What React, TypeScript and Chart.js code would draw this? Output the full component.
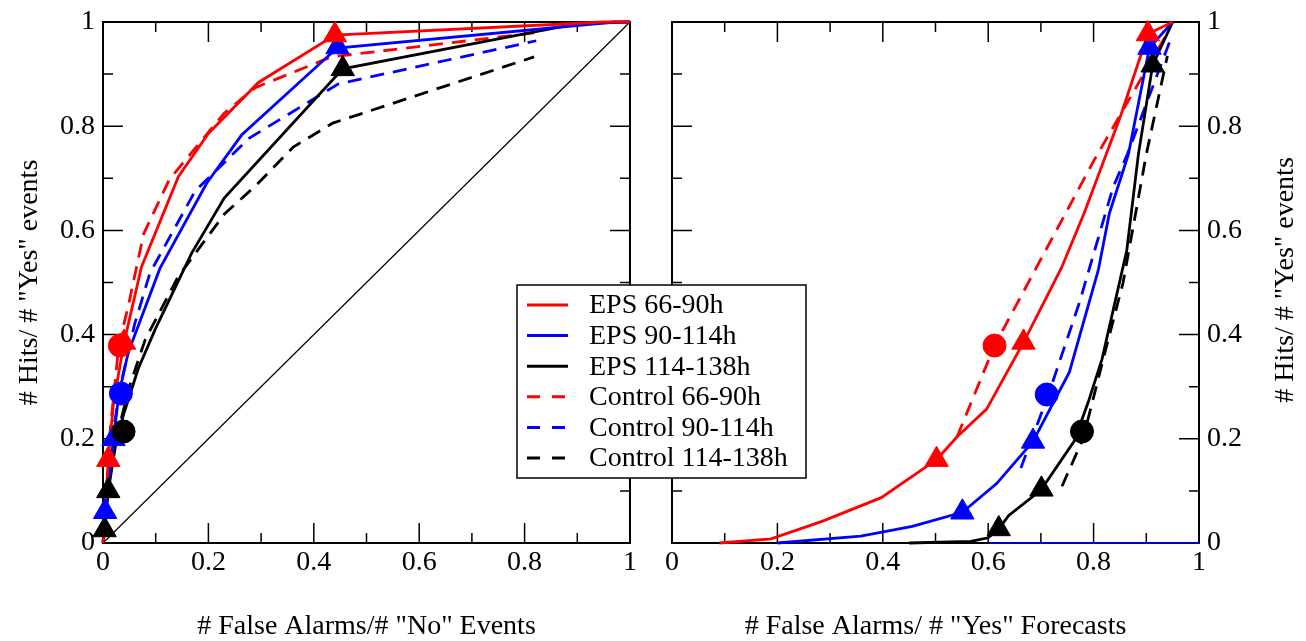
import React, { useEffect, useRef } from "react";
import { Chart, registerables } from "chart.js";

Chart.register(...registerables);

const FONT_FAMILY = "'Liberation Serif', 'Times New Roman', Times, serif";

const TICK_VALUES = [0, 0.2, 0.4, 0.6, 0.8, 1];
const TICK_LABELS = ["0", "0.2", "0.4", "0.6", "0.8", "1"];
const MINOR_TICK_VALUES = [0.1, 0.3, 0.5, 0.7, 0.9];

const SERIES_NAMES = [
  "EPS 66-90h",
  "EPS 90-114h",
  "EPS 114-138h",
  "Control 66-90h",
  "Control 90-114h",
  "Control 114-138h",
];
const SERIES_COLORS = ["#ff0000", "#0000ff", "#000000", "#ff0000", "#0000ff", "#000000"];
const SERIES_DASHED = [false, false, false, true, true, true];

const LEFT_X_TITLE = '# False Alarms/# "No" Events';
const RIGHT_X_TITLE = '# False Alarms/ # "Yes" Forecasts';
const Y_TITLE = '# Hits/ # "Yes" events';

// ---------- Left panel: hit rate vs false alarm rate ----------
const ROC_EPS66_X = [0, 0.004, 0.01, 0.02, 0.04, 0.073, 0.143, 0.2, 0.295, 0.44, 0.95, 1];
const ROC_EPS66_Y = [0, 0.06, 0.16, 0.27, 0.385, 0.53, 0.703, 0.786, 0.884, 0.975, 1, 1];
const ROC_EPS90_X = [0, 0.004, 0.01, 0.02, 0.03, 0.048, 0.108, 0.197, 0.263, 0.444, 0.97, 1];
const ROC_EPS90_Y = [0, 0.06, 0.114, 0.2, 0.285, 0.366, 0.527, 0.691, 0.783, 0.95, 1, 1];
const ROC_EPS114_X = [0, 0.003, 0.006, 0.01, 0.025, 0.04, 0.067, 0.099, 0.168, 0.23, 0.455, 0.9, 1];
const ROC_EPS114_Y = [0, 0.025, 0.053, 0.1, 0.195, 0.25, 0.335, 0.41, 0.556, 0.662, 0.91, 0.997, 1];
const ROC_CTL66_X = [0.012, 0.03, 0.048, 0.077, 0.126, 0.23, 0.289, 0.433, 0.818];
const ROC_CTL66_Y = [0.2, 0.38, 0.455, 0.593, 0.698, 0.825, 0.874, 0.933, 0.979];
const ROC_CTL90_X = [0.012, 0.02, 0.035, 0.06, 0.089, 0.175, 0.237, 0.276, 0.446, 0.822];
const ROC_CTL90_Y = [0.144, 0.22, 0.31, 0.42, 0.518, 0.676, 0.737, 0.776, 0.881, 0.964];
const ROC_CTL114_X = [0.01, 0.025, 0.05, 0.08, 0.143, 0.231, 0.289, 0.361, 0.436, 0.818];
const ROC_CTL114_Y = [0.109, 0.2, 0.3, 0.39, 0.512, 0.632, 0.685, 0.76, 0.806, 0.933];
const ROC_DIAGONAL_X = [0, 1];
const ROC_DIAGONAL_Y = [0, 1];

const ROC_TRI_RED_X = [0.01, 0.04, 0.44];
const ROC_TRI_RED_Y = [0.16, 0.385, 0.975];
const ROC_TRI_BLUE_X = [0.004, 0.02, 0.445];
const ROC_TRI_BLUE_Y = [0.06, 0.2, 0.952];
const ROC_TRI_BLACK_X = [0.003, 0.01, 0.455];
const ROC_TRI_BLACK_Y = [0.025, 0.1, 0.91];
const ROC_CIRCLE_X = [0.032, 0.034, 0.039];
const ROC_CIRCLE_Y = [0.379, 0.287, 0.214];

// ---------- Right panel: hit rate vs false alarm ratio ----------
const FAR_EPS66_X = [0.09, 0.188, 0.286, 0.397, 0.482, 0.502, 0.541, 0.597, 0.667, 0.739, 0.782, 0.852, 0.903, 0.95];
const FAR_EPS66_Y = [0, 0.008, 0.042, 0.087, 0.146, 0.16, 0.204, 0.257, 0.385, 0.528, 0.633, 0.822, 0.977, 1];
const FAR_EPS90_X = [0.2, 0.358, 0.456, 0.551, 0.616, 0.685, 0.754, 0.809, 0.83, 0.866, 0.906, 0.95];
const FAR_EPS90_Y = [0, 0.013, 0.032, 0.059, 0.114, 0.195, 0.328, 0.524, 0.633, 0.746, 0.951, 1];
const FAR_EPS114_X = [0.45, 0.567, 0.6, 0.62, 0.639, 0.682, 0.701, 0.763, 0.79, 0.816, 0.863, 0.885, 0.912, 0.95];
const FAR_EPS114_Y = [0, 0.003, 0.01, 0.027, 0.053, 0.087, 0.103, 0.195, 0.271, 0.353, 0.562, 0.746, 0.917, 1];
const FAR_CTL66_X = [0.541, 0.612, 0.8, 0.94];
const FAR_CTL66_Y = [0.204, 0.379, 0.733, 0.979];
const FAR_CTL90_X = [0.662, 0.714, 0.773, 0.837, 0.864, 0.945];
const FAR_CTL90_Y = [0.144, 0.284, 0.461, 0.683, 0.746, 0.964];
const FAR_CTL114_X = [0.74, 0.78, 0.82, 0.856, 0.9, 0.94];
const FAR_CTL114_Y = [0.109, 0.2, 0.36, 0.5, 0.746, 0.935];
const FAR_BLUE_BASE_X = [0.6, 1];
const FAR_BLUE_BASE_Y = [0, 0];

const FAR_TRI_RED_X = [0.502, 0.667, 0.903];
const FAR_TRI_RED_Y = [0.16, 0.385, 0.977];
const FAR_TRI_BLUE_X = [0.551, 0.685, 0.906];
const FAR_TRI_BLUE_Y = [0.059, 0.195, 0.951];
const FAR_TRI_BLACK_X = [0.62, 0.701, 0.912];
const FAR_TRI_BLACK_Y = [0.027, 0.103, 0.917];
const FAR_CIRCLE_X = [0.612, 0.711, 0.778];
const FAR_CIRCLE_Y = [0.379, 0.285, 0.214];

const CIRCLE_COLORS = ["#ff0000", "#0000ff", "#000000"];

function pts(xs: number[], ys: number[]) {
  return xs.map((x, i) => ({ x, y: ys[i] }));
}

function seriesDs(xs: number[], ys: number[], idx: number) {
  return {
    label: SERIES_NAMES[idx],
    data: pts(xs, ys),
    showLine: true,
    borderColor: SERIES_COLORS[idx],
    backgroundColor: SERIES_COLORS[idx],
    borderWidth: 2.8,
    borderDash: SERIES_DASHED[idx] ? [14, 9] : [],
    pointRadius: 0,
    tension: 0,
    clip: false,
    order: 2,
  };
}

function plainLine(xs: number[], ys: number[], color: string, width: number) {
  return {
    label: "",
    data: pts(xs, ys),
    showLine: true,
    borderColor: color,
    backgroundColor: color,
    borderWidth: width,
    pointRadius: 0,
    tension: 0,
    clip: false,
    order: 3,
  };
}

function markerDs(xs: number[], ys: number[], colors: string | string[], style: string, radius: number) {
  return {
    label: "",
    data: pts(xs, ys),
    showLine: false,
    pointStyle: style,
    pointRadius: radius,
    pointBackgroundColor: colors,
    pointBorderColor: colors,
    pointBorderWidth: 1,
    clip: false,
    order: 0,
  };
}

const framePlugin = {
  id: "frameTicks",
  beforeDatasetsDraw(chart: any) {
    const { ctx, chartArea: a, scales } = chart;
    const xs = scales.x;
    const ys = scales.y;
    ctx.save();
    ctx.strokeStyle = "#000";
    ctx.lineWidth = 1.5;
    ctx.beginPath();
    const drawX = (v: number, len: number) => {
      const px = xs.getPixelForValue(v);
      ctx.moveTo(px, a.bottom);
      ctx.lineTo(px, a.bottom - len);
      ctx.moveTo(px, a.top);
      ctx.lineTo(px, a.top + len);
    };
    const drawY = (v: number, len: number) => {
      const py = ys.getPixelForValue(v);
      ctx.moveTo(a.left, py);
      ctx.lineTo(a.left + len, py);
      ctx.moveTo(a.right, py);
      ctx.lineTo(a.right - len, py);
    };
    TICK_VALUES.forEach((v) => { drawX(v, 20); drawY(v, 20); });
    MINOR_TICK_VALUES.forEach((v) => { drawX(v, 10); drawY(v, 10); });
    ctx.stroke();
    ctx.lineWidth = 2;
    ctx.strokeRect(a.left, a.top, a.right - a.left, a.bottom - a.top);
    ctx.restore();
  },
};

const rightTitlePlugin = {
  id: "rightTitle",
  afterDraw(chart: any) {
    const { ctx } = chart;
    ctx.save();
    ctx.fillStyle = "#000";
    ctx.font = `28px ${FONT_FAMILY}`;
    ctx.textAlign = "center";
    ctx.textBaseline = "middle";
    ctx.translate(1286 - 480, 280);
    ctx.rotate(-Math.PI / 2);
    ctx.fillText(Y_TITLE, 0, 0);
    ctx.restore();
  },
};

const legendPlugin = {
  id: "boxLegend",
  afterDraw(chart: any) {
    const { ctx } = chart;
    const ox = 480;
    const x0 = 517 - ox;
    const y0 = 285;
    const w = 806 - 517;
    const h = 478 - 285;
    ctx.save();
    ctx.fillStyle = "#fff";
    ctx.fillRect(x0, y0, w, h);
    ctx.strokeStyle = "#000";
    ctx.lineWidth = 1.5;
    ctx.strokeRect(x0, y0, w, h);
    ctx.font = `28px ${FONT_FAMILY}`;
    ctx.textAlign = "left";
    ctx.textBaseline = "middle";
    SERIES_NAMES.forEach((name, i) => {
      const y = 305 + i * 30.6;
      ctx.beginPath();
      ctx.strokeStyle = SERIES_COLORS[i];
      ctx.lineWidth = 3;
      ctx.setLineDash(SERIES_DASHED[i] ? [13, 12] : []);
      ctx.moveTo(527 - ox, y);
      ctx.lineTo(568 - ox, y);
      ctx.stroke();
      ctx.setLineDash([]);
      ctx.fillStyle = "#000";
      ctx.fillText(name, 589 - ox, y + 1);
    });
    ctx.restore();
  },
};

function tickConfig(padding: number) {
  return {
    font: { family: FONT_FAMILY, size: 28, lineHeight: 1 },
    color: "#000",
    padding,
    maxRotation: 0,
    autoSkip: false,
    callback: (_v: any, i: number) => TICK_LABELS[i],
  };
}

function buildTicks(s: any) {
  s.ticks = TICK_VALUES.map((v) => ({ value: v }));
}

function baseOptions(padding: any, xTitle: string, yPos: string, yWidth: number, yTitle: boolean) {
  return {
    animation: false,
    responsive: false,
    maintainAspectRatio: false,
    events: [],
    layout: { padding },
    plugins: { legend: { display: false }, tooltip: { enabled: false }, title: { display: false } },
    scales: {
      x: {
        type: "linear",
        min: 0,
        max: 1,
        position: "bottom",
        afterBuildTicks: buildTicks,
        ticks: tickConfig(6),
        grid: { display: false, drawTicks: false },
        border: { display: false },
        title: {
          display: true,
          text: xTitle,
          color: "#000",
          font: { family: FONT_FAMILY, size: 28, lineHeight: 1 },
          padding: { top: 0, bottom: 0 },
        },
        afterFit: (s: any) => { s.height = 98; },
      },
      y: {
        type: "linear",
        min: 0,
        max: 1,
        position: yPos,
        afterBuildTicks: buildTicks,
        ticks: tickConfig(8),
        grid: { display: false, drawTicks: false },
        border: { display: false },
        title: {
          display: yTitle,
          text: Y_TITLE,
          color: "#000",
          font: { family: FONT_FAMILY, size: 28, lineHeight: 1 },
          padding: { top: 16, bottom: 0 },
        },
        afterFit: (s: any) => { s.width = yWidth; },
      },
    },
  };
}

export default function App() {
  const leftRef = useRef<HTMLCanvasElement>(null);
  const rightRef = useRef<HTMLCanvasElement>(null);

  useEffect(() => {
    const left = new Chart(leftRef.current as HTMLCanvasElement, {
      type: "scatter",
      data: {
        datasets: [
          markerDs(ROC_CIRCLE_X, ROC_CIRCLE_Y, CIRCLE_COLORS, "circle", 11.5),
          markerDs(ROC_TRI_RED_X, ROC_TRI_RED_Y, "#ff0000", "triangle", 13.5),
          markerDs(ROC_TRI_BLUE_X, ROC_TRI_BLUE_Y, "#0000ff", "triangle", 13.5),
          markerDs(ROC_TRI_BLACK_X, ROC_TRI_BLACK_Y, "#000000", "triangle", 13.5),
          seriesDs(ROC_EPS66_X, ROC_EPS66_Y, 0),
          seriesDs(ROC_EPS90_X, ROC_EPS90_Y, 1),
          seriesDs(ROC_EPS114_X, ROC_EPS114_Y, 2),
          seriesDs(ROC_CTL66_X, ROC_CTL66_Y, 3),
          seriesDs(ROC_CTL90_X, ROC_CTL90_Y, 4),
          seriesDs(ROC_CTL114_X, ROC_CTL114_Y, 5),
          plainLine(ROC_DIAGONAL_X, ROC_DIAGONAL_Y, "#000000", 1.2),
        ],
      } as any,
      options: baseOptions({ left: 0, top: 16, right: 20, bottom: 0 }, LEFT_X_TITLE, "left", 103, true) as any,
      plugins: [framePlugin],
    });

    const right = new Chart(rightRef.current as HTMLCanvasElement, {
      type: "scatter",
      data: {
        datasets: [
          markerDs(FAR_CIRCLE_X, FAR_CIRCLE_Y, CIRCLE_COLORS, "circle", 11.5),
          markerDs(FAR_TRI_RED_X, FAR_TRI_RED_Y, "#ff0000", "triangle", 13.5),
          markerDs(FAR_TRI_BLUE_X, FAR_TRI_BLUE_Y, "#0000ff", "triangle", 13.5),
          markerDs(FAR_TRI_BLACK_X, FAR_TRI_BLACK_Y, "#000000", "triangle", 13.5),
          seriesDs(FAR_EPS66_X, FAR_EPS66_Y, 0),
          seriesDs(FAR_EPS90_X, FAR_EPS90_Y, 1),
          seriesDs(FAR_EPS114_X, FAR_EPS114_Y, 2),
          seriesDs(FAR_CTL66_X, FAR_CTL66_Y, 3),
          seriesDs(FAR_CTL90_X, FAR_CTL90_Y, 4),
          seriesDs(FAR_CTL114_X, FAR_CTL114_Y, 5),
          plainLine(FAR_BLUE_BASE_X, FAR_BLUE_BASE_Y, "#0000ff", 1.5),
        ],
      } as any,
      options: baseOptions({ left: 192, top: 16, right: 0, bottom: 0 }, RIGHT_X_TITLE, "right", 107, false) as any,
      plugins: [framePlugin, rightTitlePlugin, legendPlugin],
    });

    return () => {
      left.destroy();
      right.destroy();
    };
  }, []);

  return (
    <div style={{ position: "absolute", left: 0, top: 0, width: 1306, height: 641, background: "#fff", overflow: "hidden" }}>
      <canvas
        ref={leftRef}
        width={650}
        height={641}
        style={{ position: "absolute", left: 0, top: 0, width: 650, height: 641 }}
      />
      <canvas
        ref={rightRef}
        width={826}
        height={641}
        style={{ position: "absolute", left: 480, top: 0, width: 826, height: 641 }}
      />
    </div>
  );
}
